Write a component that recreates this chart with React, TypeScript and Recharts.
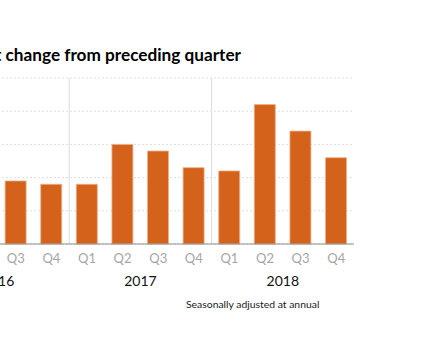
import React from 'react'
import { BarChart, Bar, XAxis, YAxis, CartesianGrid, ReferenceLine } from 'recharts'

const quarters = ['Q3', 'Q4', 'Q1', 'Q2', 'Q3', 'Q4', 'Q1', 'Q2', 'Q3', 'Q4']
const years = [2016, 2016, 2017, 2017, 2017, 2017, 2018, 2018, 2018, 2018]
const growth = [1.9, 1.8, 1.8, 3.0, 2.8, 2.3, 2.2, 4.2, 3.4, 2.6]
const yTicks = [0, 1, 2, 3, 4, 5]

const data = quarters.map((q, i) => ({ key: `${q} ${years[i]}`, q, year: years[i], value: growth[i] }))
// a thin rule at the start of each new year's Q1
const yearStarts = data.filter((d, i) => d.q === 'Q1' && i > 0).map(d => d.key)

const FONT = 'Lato, "Open Sans", sans-serif'

function QuarterTick(props: any) {
  const { x, y, payload } = props
  const d = data[payload.index]
  const half = payload.offset ?? 17.8
  return (
    <g>
      <text x={x} y={y + 11} textAnchor="middle" fill="#a6a6a6" fontSize={13} fontFamily={FONT}>
        {d.q}
      </text>
      {d.q === 'Q3' && (
        <text x={x - half} y={y + 34} textAnchor="middle" fill="#111" fontSize={14} fontFamily={FONT}>
          {d.year}
        </text>
      )}
    </g>
  )
}

export default function App() {
  return (
    <div style={{ position: 'absolute', left: 0, top: 0, width: 424, height: 346, background: '#fff', overflow: 'hidden' }}>
      <BarChart
        width={424}
        height={346}
        data={data}
        margin={{ top: 78, right: 70, left: -2, bottom: 62 }}
        barCategoryGap="20%"
      >
        <CartesianGrid vertical={false} stroke="#dedede" strokeDasharray="2 2" />
        <XAxis
          dataKey="key"
          height={40}
          tickLine={false}
          axisLine={{ stroke: '#8c8c8c' }}
          interval={0}
          tick={<QuarterTick />}
        />
        <YAxis domain={[0, 5]} ticks={yTicks} hide />
        {yearStarts.map(k => (
          <ReferenceLine key={k} x={k} position="start" stroke="#dcdcdc" />
        ))}
        <Bar dataKey="value" fill="#d4621b" stroke="#f0b088" strokeWidth={0.8} isAnimationActive={false} />
      </BarChart>
      <svg width={424} height={346} style={{ position: 'absolute', left: 0, top: 0, pointerEvents: 'none' }}>
        <text x={241} y={61} textAnchor="end" fontSize={17.2} fontWeight="bold" fill="#000" fontFamily={FONT}>
          Percent change from preceding quarter
        </text>
        <text x={186} y={308} fontSize={10.4} fill="#222" fontFamily={FONT}>
          Seasonally adjusted at annual
        </text>
      </svg>
    </div>
  )
}
